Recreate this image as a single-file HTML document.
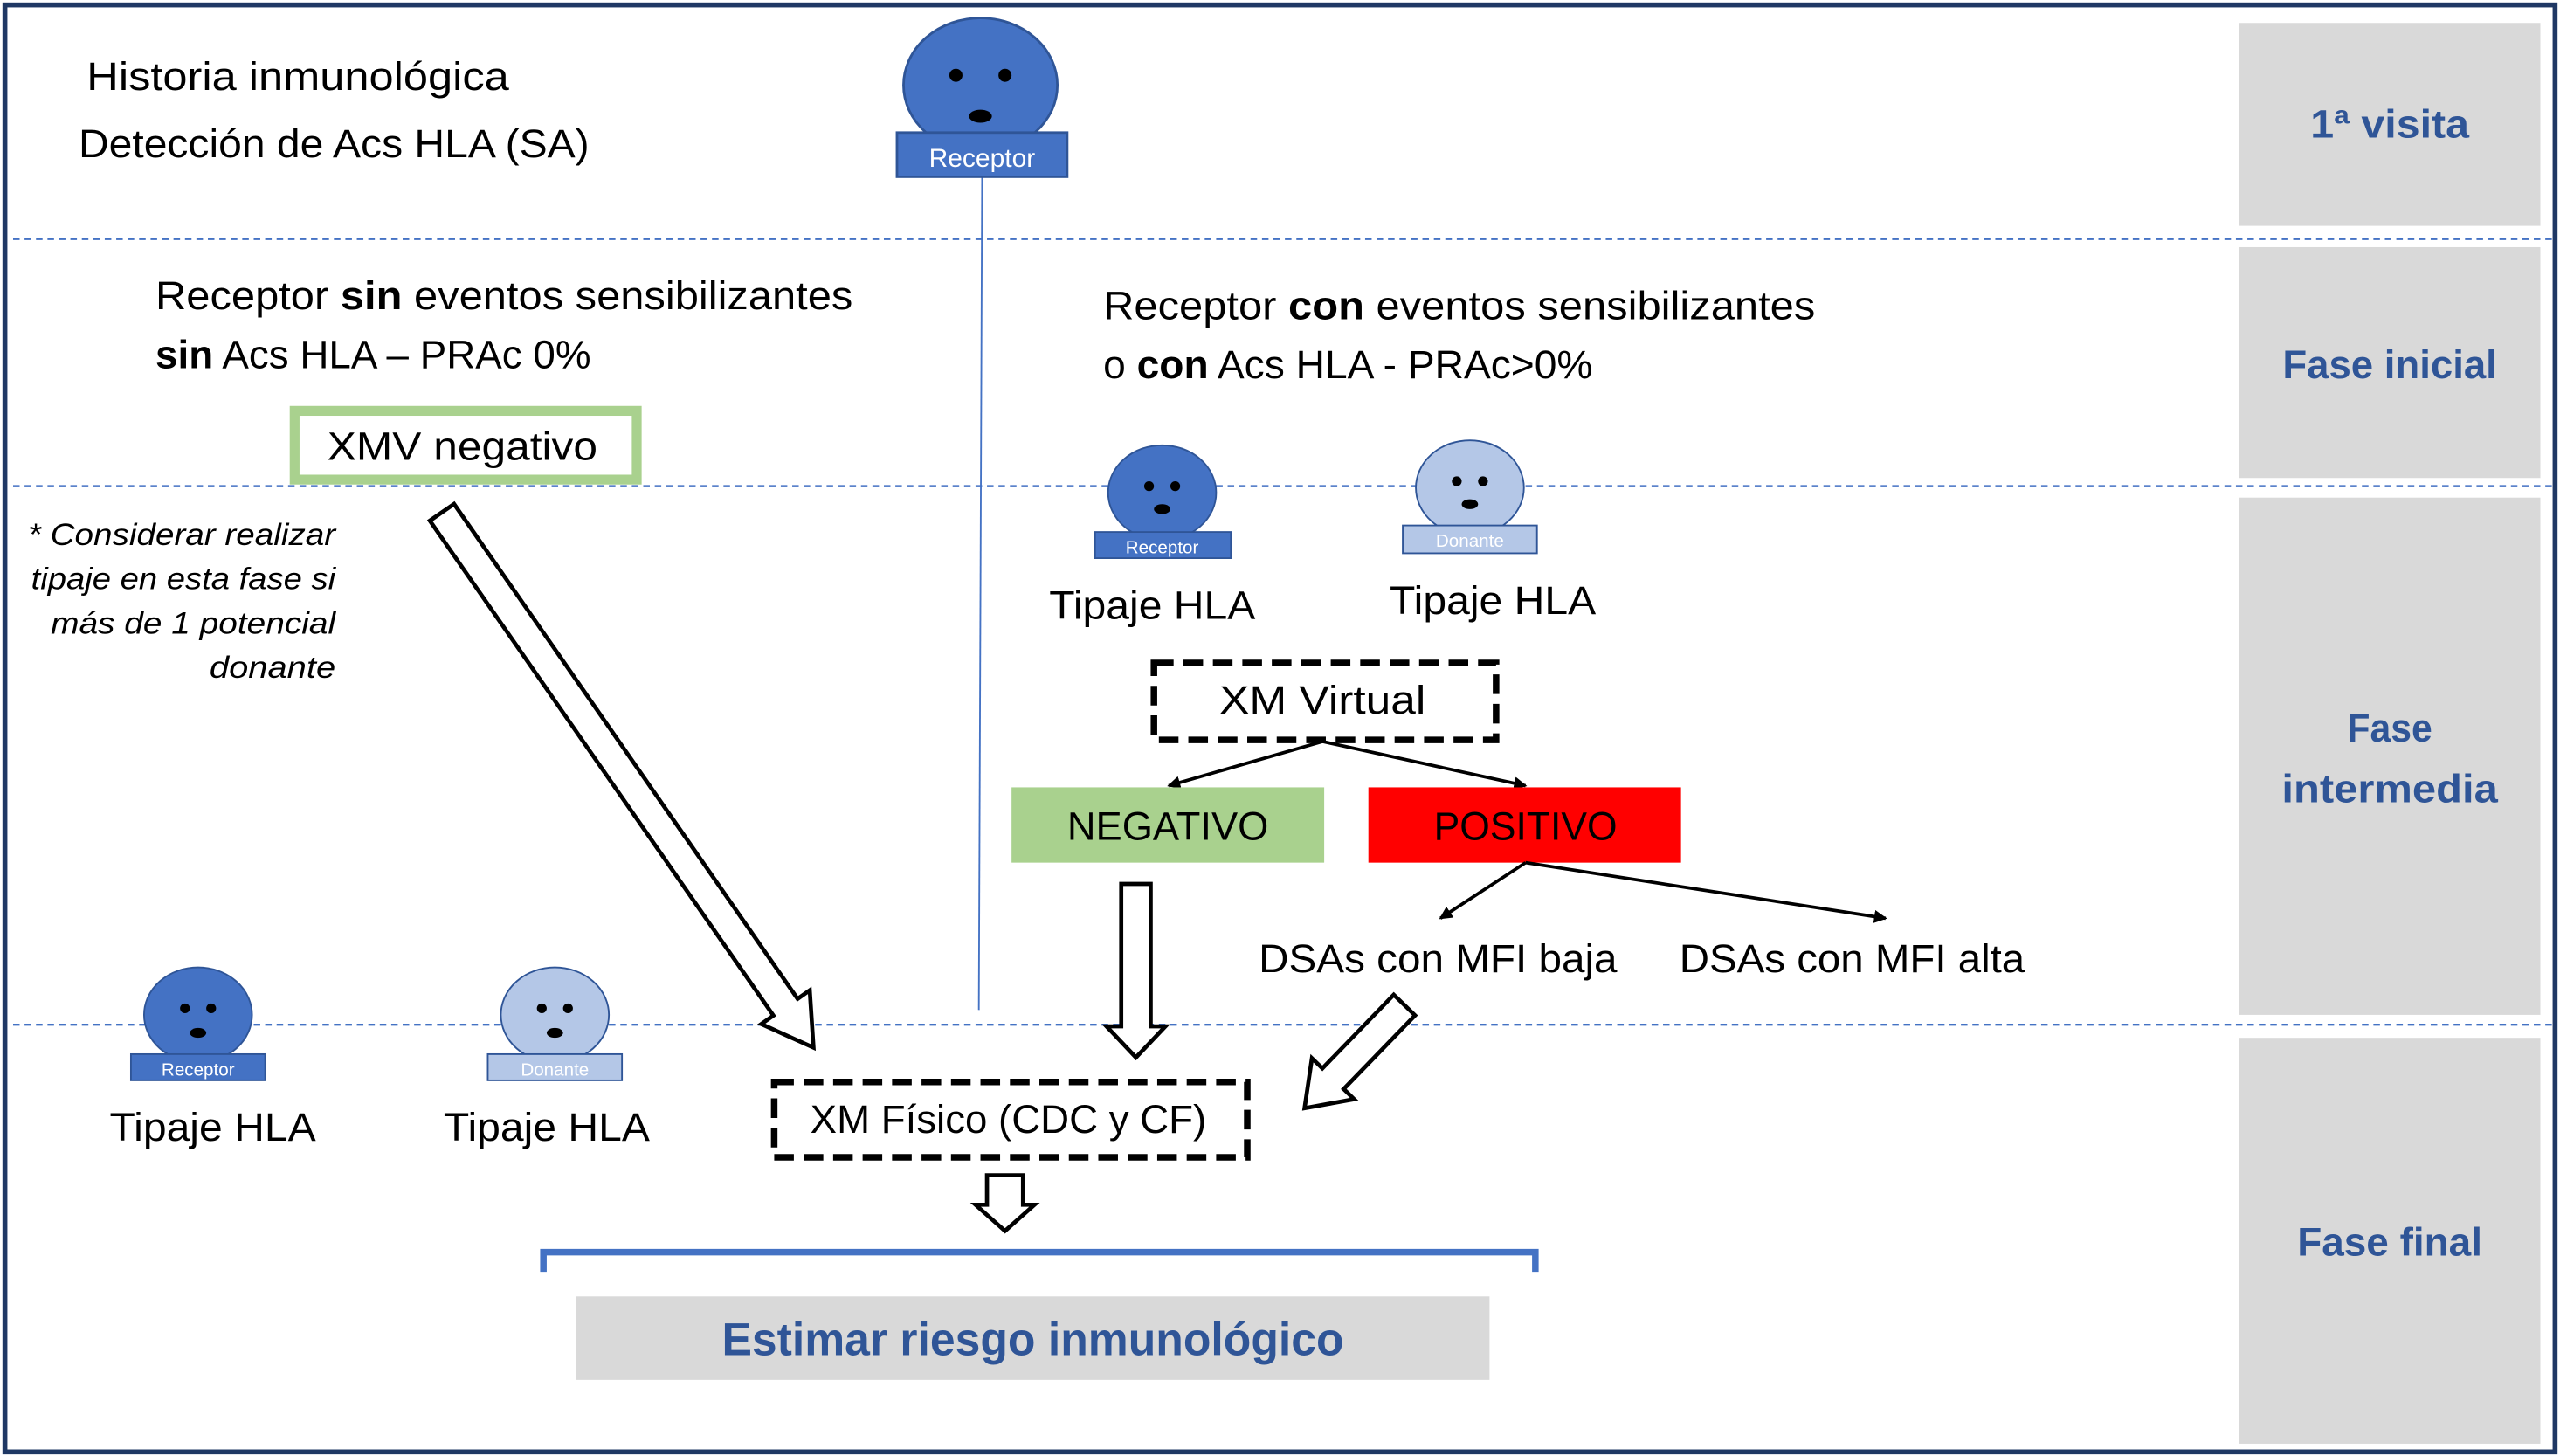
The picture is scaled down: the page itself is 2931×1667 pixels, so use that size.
<!DOCTYPE html>
<html><head><meta charset="utf-8"><style>
html,body{margin:0;padding:0;background:#fff}
svg{display:block}
text{font-family:"Liberation Sans",sans-serif}
</style></head><body>
<svg width="2931" height="1667" viewBox="0 0 1564 889.5" preserveAspectRatio="none" xmlns="http://www.w3.org/2000/svg">
<defs>
<marker id="ah" markerWidth="8" markerHeight="8" refX="7" refY="4" orient="auto" markerUnits="userSpaceOnUse"><path d="M0,0 L8,4 L0,8 z" fill="#000"/></marker>
</defs>
<rect x="3" y="3" width="1558" height="884" fill="#fff" stroke="#1f3864" stroke-width="3"/>
<rect x="1368" y="14" width="184" height="124" fill="#d9d9d9"/>
<rect x="1368" y="151" width="184" height="141" fill="#d9d9d9"/>
<rect x="1368" y="304" width="184" height="316" fill="#d9d9d9"/>
<rect x="1368" y="634" width="184" height="248" fill="#d9d9d9"/>
<g fill="#2f5597" font-weight="bold" font-size="24" text-anchor="middle" lengthAdjust="spacingAndGlyphs">
<text x="1460" y="84" textLength="97" lengthAdjust="spacingAndGlyphs">1ª visita</text>
<text x="1460" y="231" textLength="131" lengthAdjust="spacingAndGlyphs">Fase inicial</text>
<text x="1460" y="453" textLength="52" lengthAdjust="spacingAndGlyphs">Fase</text>
<text x="1460" y="490" textLength="132" lengthAdjust="spacingAndGlyphs">intermedia</text>
<text x="1460" y="767" textLength="113" lengthAdjust="spacingAndGlyphs">Fase final</text>
</g>
<g stroke="#4472c4" stroke-width="1.3" stroke-dasharray="4,3">
<line x1="8" y1="146" x2="1560" y2="146"/>
<line x1="8" y1="297" x2="1560" y2="297"/>
<line x1="8" y1="626" x2="1560" y2="626"/>
</g>
<line x1="600" y1="108" x2="598" y2="617" stroke="#4472c4" stroke-width="1"/>
<ellipse cx="599" cy="52" rx="47" ry="41" fill="#4472c4" stroke="#2f5597" stroke-width="1.5"/>
<circle cx="584" cy="46" r="4" fill="#000"/><circle cx="614" cy="46" r="4" fill="#000"/>
<ellipse cx="599" cy="71" rx="7" ry="4" fill="#000"/>
<rect x="548" y="81" width="104" height="27" fill="#4472c4" stroke="#2f5597" stroke-width="1.5"/>
<text x="600" y="102" fill="#fff" font-size="16" text-anchor="middle">Receptor</text>
<g font-size="24" fill="#000">
<text x="53" y="55" textLength="258" lengthAdjust="spacingAndGlyphs">Historia inmunológica</text>
<text x="48" y="96" textLength="312" lengthAdjust="spacingAndGlyphs">Detección de Acs HLA (SA)</text>
<text x="95" y="189" textLength="426" lengthAdjust="spacingAndGlyphs">Receptor <tspan font-weight="bold">sin</tspan> eventos sensibilizantes</text>
<text x="95" y="225" textLength="266" lengthAdjust="spacingAndGlyphs"><tspan font-weight="bold">sin</tspan> Acs HLA – PRAc 0%</text>
<text x="674" y="195" textLength="435" lengthAdjust="spacingAndGlyphs">Receptor <tspan font-weight="bold">con</tspan> eventos sensibilizantes</text>
<text x="674" y="231" textLength="299" lengthAdjust="spacingAndGlyphs">o <tspan font-weight="bold">con</tspan> Acs HLA - PRAc&gt;0%</text>
<text x="641" y="378" textLength="126" lengthAdjust="spacingAndGlyphs">Tipaje HLA</text>
<text x="849" y="375" textLength="126" lengthAdjust="spacingAndGlyphs">Tipaje HLA</text>
<text x="67" y="697" textLength="126" lengthAdjust="spacingAndGlyphs">Tipaje HLA</text>
<text x="271" y="697" textLength="126" lengthAdjust="spacingAndGlyphs">Tipaje HLA</text>
<text x="769" y="594" textLength="219" lengthAdjust="spacingAndGlyphs">DSAs con MFI baja</text>
<text x="1026" y="594" textLength="211" lengthAdjust="spacingAndGlyphs">DSAs con MFI alta</text>
</g>
<g font-size="19" font-style="italic" fill="#000">
<text x="17" y="333" textLength="188" lengthAdjust="spacingAndGlyphs">* Considerar realizar</text>
<text x="19" y="360" textLength="186" lengthAdjust="spacingAndGlyphs">tipaje en esta fase si</text>
<text x="31" y="387" textLength="174" lengthAdjust="spacingAndGlyphs">más de 1 potencial</text>
<text x="128" y="414" textLength="77" lengthAdjust="spacingAndGlyphs">donante</text>
</g>
<rect x="180" y="251" width="209" height="42" fill="#fff" stroke="#a9d18e" stroke-width="6"/>
<text x="200" y="281" font-size="24" textLength="165" lengthAdjust="spacingAndGlyphs">XMV negativo</text>
<g>
<ellipse cx="710" cy="301" rx="33" ry="29" fill="#4472c4" stroke="#2f5597"/>
<circle cx="702" cy="297" r="3" fill="#000"/><circle cx="718" cy="297" r="3" fill="#000"/>
<ellipse cx="710" cy="311" rx="5" ry="3" fill="#000"/>
<rect x="669" y="325" width="83" height="16" fill="#4472c4" stroke="#2f5597"/>
<text x="710" y="338" fill="#fff" font-size="11" text-anchor="middle">Receptor</text>
<ellipse cx="898" cy="298" rx="33" ry="29" fill="#b4c7e7" stroke="#2f5597"/>
<circle cx="890" cy="294" r="3" fill="#000"/><circle cx="906" cy="294" r="3" fill="#000"/>
<ellipse cx="898" cy="308" rx="5" ry="3" fill="#000"/>
<rect x="857" y="321" width="82" height="17" fill="#b4c7e7" stroke="#2f5597"/>
<text x="898" y="334" fill="#fff" font-size="11" text-anchor="middle">Donante</text>
<ellipse cx="121" cy="620" rx="33" ry="29" fill="#4472c4" stroke="#2f5597"/>
<circle cx="113" cy="616" r="3" fill="#000"/><circle cx="129" cy="616" r="3" fill="#000"/>
<ellipse cx="121" cy="631" rx="5" ry="3" fill="#000"/>
<rect x="80" y="644" width="82" height="16" fill="#4472c4" stroke="#2f5597"/>
<text x="121" y="657" fill="#fff" font-size="11" text-anchor="middle">Receptor</text>
<ellipse cx="339" cy="620" rx="33" ry="29" fill="#b4c7e7" stroke="#2f5597"/>
<circle cx="331" cy="616" r="3" fill="#000"/><circle cx="347" cy="616" r="3" fill="#000"/>
<ellipse cx="339" cy="631" rx="5" ry="3" fill="#000"/>
<rect x="298" y="644" width="82" height="16" fill="#b4c7e7" stroke="#2f5597"/>
<text x="339" y="657" fill="#fff" font-size="11" text-anchor="middle">Donante</text>
</g>
<rect x="705" y="405" width="209" height="47" fill="#fff" stroke="#000" stroke-width="4" stroke-dasharray="12,6"/>
<text x="745" y="436" font-size="24" textLength="126" lengthAdjust="spacingAndGlyphs">XM Virtual</text>
<line x1="808" y1="453" x2="714" y2="480" stroke="#000" stroke-width="2" marker-end="url(#ah)"/>
<line x1="808" y1="453" x2="932" y2="480" stroke="#000" stroke-width="2" marker-end="url(#ah)"/>
<rect x="618" y="481" width="191" height="46" fill="#a9d18e"/>
<text x="652" y="513" font-size="24" textLength="123" lengthAdjust="spacingAndGlyphs">NEGATIVO</text>
<rect x="836" y="481" width="191" height="46" fill="#ff0000"/>
<text x="876" y="513" font-size="24" textLength="112" lengthAdjust="spacingAndGlyphs">POSITIVO</text>
<line x1="932" y1="527" x2="880" y2="561" stroke="#000" stroke-width="2" marker-end="url(#ah)"/>
<line x1="932" y1="527" x2="1152" y2="561" stroke="#000" stroke-width="2" marker-end="url(#ah)"/>
<g fill="#fff" stroke="#000" stroke-width="2.5" stroke-linejoin="miter">
<polygon points="685,540 703,540 703,627 712,627 694,646 676,627 685,627"/>
<polygon points="262.6,318.1 472.5,620.4 465.1,625.6 497,640 494.7,605 487.3,610.2 277.4,307.9"/>
<polygon points="851.5,607.7 807.9,652.7 801.5,646.5 797,677 827.3,671.5 820.9,665.3 864.5,620.3"/>
<polygon points="603,718 625,718 625,736 632,736 614,752 596,736 603,736"/>
</g>
<rect x="473" y="661" width="289" height="46" fill="#fff" stroke="#000" stroke-width="4" stroke-dasharray="12,6"/>
<text x="495" y="692" font-size="24" textLength="242" lengthAdjust="spacingAndGlyphs">XM Físico (CDC y CF)</text>
<polyline points="332,777 332,765 938,765 938,777" fill="none" stroke="#4472c4" stroke-width="4"/>
<rect x="352" y="792" width="558" height="51" fill="#d9d9d9"/>
<text x="441" y="828" font-size="28" font-weight="bold" fill="#2f5597" textLength="380" lengthAdjust="spacingAndGlyphs">Estimar riesgo inmunológico</text>
</svg>
</body></html>
